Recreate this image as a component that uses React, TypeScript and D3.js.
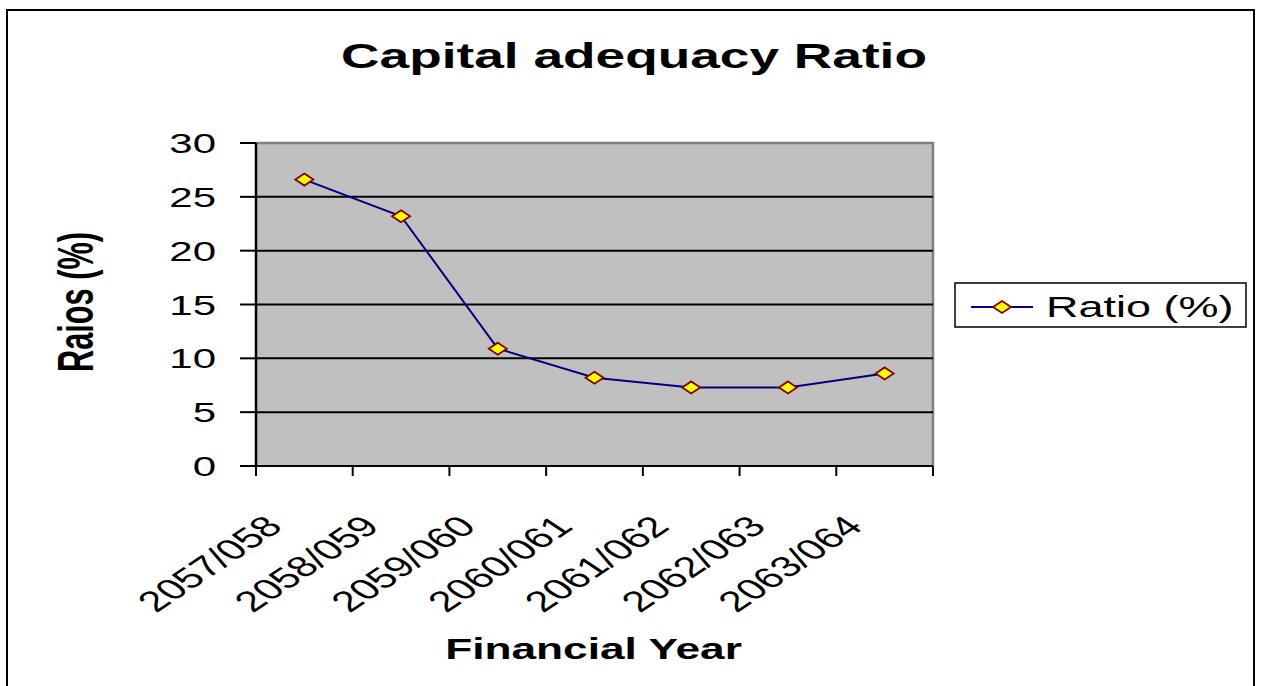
import React from "react";
import * as d3 from "d3";

const categories = ["2057/058", "2058/059", "2059/060", "2060/061", "2061/062", "2062/063", "2063/064"];
const ratioValues = [26.6, 23.2, 10.9, 8.2, 7.3, 7.3, 8.6];
const yTicks = [0, 5, 10, 15, 20, 25, 30];
const seriesName = "Ratio (%)";
const titleText = "Capital adequacy Ratio";
const xTitle = "Financial Year";
const yTitle = "Raios (%)";

const W = 1262;
const H = 686;
const SX = 1.5;
const plot = { left: 256, right: 933, top: 143, bottom: 466 };
const FONT = "'Liberation Sans', Arial, sans-serif";

export default function App() {
  const x = d3.scaleBand<string>().domain(categories).range([plot.left, plot.right]).padding(0);
  const y = d3.scaleLinear().domain([0, 30]).range([plot.bottom, plot.top]);
  const cx = (c: string) => (x(c) as number) + x.bandwidth() / 2;

  const line = d3
    .line<number>()
    .x((_, i) => cx(categories[i]))
    .y((d) => y(d));

  const diamond = (px: number, py: number, w = 18, h = 12) =>
    `M${px},${py - h / 2}L${px + w / 2},${py}L${px},${py + h / 2}L${px - w / 2},${py}Z`;

  const boundaries = categories.map((c) => x(c) as number).concat([plot.right]);

  return (
    <svg width={W} height={H} style={{ position: "absolute", left: 0, top: 0, background: "#fff" }} fontFamily={FONT}>
      <rect x={0} y={0} width={W} height={H} fill="#fff" />
      {/* outer border */}
      <rect x={7} y={10} width={1247} height={720} fill="none" stroke="#000" strokeWidth={2} />

      {/* title */}
      <g transform={`translate(634,68) scale(${SX},1)`}>
        <text textAnchor="middle" fontSize={35.5} fontWeight="bold" fill="#000">{titleText}</text>
      </g>

      {/* plot background */}
      <rect x={plot.left} y={plot.top} width={plot.right - plot.left} height={plot.bottom - plot.top} fill="#c0c0c0" />
      {/* top & right frame (gray) */}
      <path
        d={`M${plot.left},${plot.top}H${plot.right}V${plot.bottom}`}
        fill="none"
        stroke="#808080"
        strokeWidth={2.5}
      />

      {/* gridlines */}
      {yTicks.filter((t) => t > 0 && t < 30).map((t) => (
        <line key={t} x1={plot.left} x2={plot.right} y1={y(t)} y2={y(t)} stroke="#000" strokeWidth={2} />
      ))}

      {/* y axis */}
      <line x1={plot.left} x2={plot.left} y1={plot.top} y2={plot.bottom} stroke="#000" strokeWidth={2.5} />
      {yTicks.map((t) => (
        <g key={t}>
          <line x1={240} x2={plot.left} y1={y(t)} y2={y(t)} stroke="#000" strokeWidth={2} />
          <g transform={`translate(216,${y(t) + 10}) scale(${SX},1)`}>
            <text textAnchor="end" fontSize={28} fill="#000">{t}</text>
          </g>
        </g>
      ))}

      {/* x axis */}
      <line x1={plot.left} x2={plot.right} y1={plot.bottom} y2={plot.bottom} stroke="#000" strokeWidth={2} />
      {boundaries.map((b, i) => (
        <line key={i} x1={b} x2={b} y1={plot.bottom} y2={plot.bottom + 10} stroke="#000" strokeWidth={2} />
      ))}
      {categories.map((c) => (
        <g key={c} transform={`translate(${cx(c) - 20},528) scale(${SX},1) rotate(-45)`}>
          <text textAnchor="end" fontSize={29} fill="#000">{c}</text>
        </g>
      ))}

      {/* series line */}
      <path d={line(ratioValues) || ""} fill="none" stroke="#000080" strokeWidth={2} />
      {ratioValues.map((v, i) => (
        <path key={i} d={diamond(cx(categories[i]), y(v))} fill="#ffff00" stroke="#800000" strokeWidth={1.8} />
      ))}

      {/* axis titles */}
      <g transform={`translate(593.5,659) scale(${SX},1)`}>
        <text textAnchor="middle" fontSize={29.5} fontWeight="bold" fill="#000">{xTitle}</text>
      </g>
      <g transform={`translate(93,302) scale(${SX},1) rotate(-90)`}>
        <text textAnchor="middle" fontSize={33} fontWeight="bold" fill="#000" textLength={140} lengthAdjust="spacingAndGlyphs">{yTitle}</text>
      </g>

      {/* legend */}
      <rect x={955} y={283} width={291} height={44} fill="#fff" stroke="#000" strokeWidth={1.5} />
      <line x1={971} x2={1033} y1={307} y2={307} stroke="#000080" strokeWidth={2} />
      <path d={diamond(1002, 307)} fill="#ffff00" stroke="#800000" strokeWidth={1.8} />
      <g transform={`translate(1046,317) scale(${SX},1)`}>
        <text fontSize={30} fill="#000">{seriesName}</text>
      </g>
    </svg>
  );
}
